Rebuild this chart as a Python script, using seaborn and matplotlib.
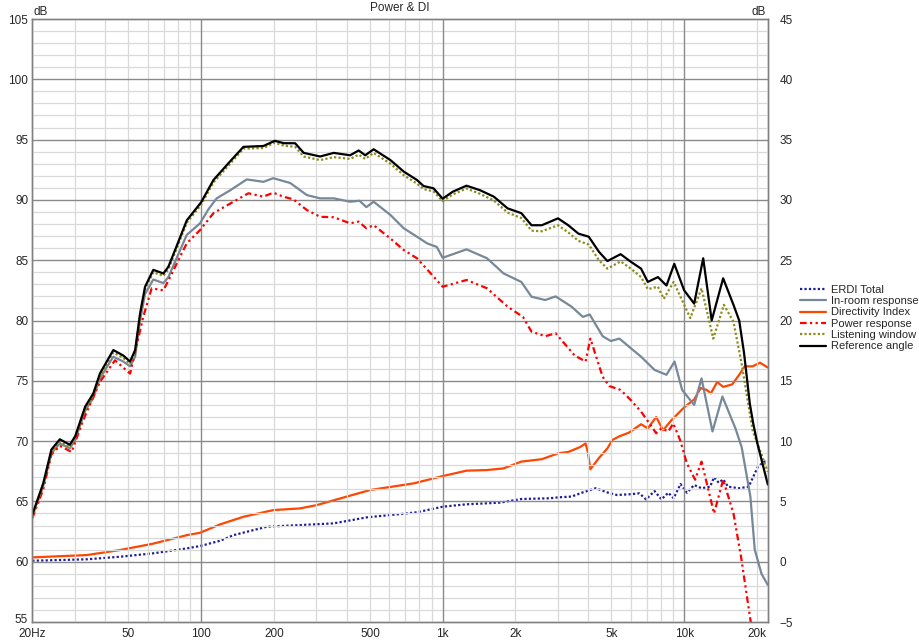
import numpy as np
import pandas as pd
import seaborn as sns
import matplotlib
matplotlib.use("Agg")
import matplotlib.pyplot as plt
import matplotlib.transforms as mtransforms

# ---- data (Hz, dB) ----
ref_freq = [20, 22.2, 24.0, 26.0, 28.6, 30.1, 33.1, 35.8, 38.1, 43.3, 47.6, 50.8, 53.3, 55.9, 58.6,
            63.4, 69.8, 73.2, 79.3, 87.2, 100, 112.5, 131.9, 149.7, 181, 202, 220, 245, 266, 311,
            354, 414, 449, 478, 518, 608, 690, 783, 834, 917, 1000, 1101, 1256, 1430, 1629, 1857,
            2117, 2334, 2574, 3003, 3312, 3651, 4026, 4437, 4811, 5456, 6015, 6632, 7070, 7789,
            8450, 9100, 10000, 11000, 11990, 13000, 14500, 16000, 16900, 17700, 18700, 19300,
            20100, 22200]
ref_db = [63.9, 66.5, 69.3, 70.15, 69.7, 70.4, 72.85, 73.96, 75.6, 77.55, 77.1, 76.6, 77.55, 80.6, 82.8,
          84.2, 83.9, 84.46, 86.2, 88.3, 89.8, 91.65, 93.2, 94.4, 94.47, 94.9, 94.7, 94.7, 93.9, 93.6,
          93.9, 93.7, 94.1, 93.7, 94.2, 93.3, 92.35, 91.65, 91.15, 90.96, 90.1, 90.68, 91.18, 90.8, 90.27, 89.3,
          88.9, 87.9, 87.9, 88.47, 87.9, 87.2, 86.95, 85.7, 84.93, 85.5, 84.87, 84.3, 83.2, 83.6,
          82.9, 84.7, 82.5, 81.4, 85.16, 80.0, 83.5, 81.3, 80.0, 77.3, 73.1, 71.5,
          69.8, 66.4]

lw_freq = [20, 22.2, 24.0, 26.0, 28.6, 30.1, 33.1, 35.8, 38.1, 43.3, 47.6, 50.8, 53.3, 55.9, 58.6,
           63.4, 69.8, 73.2, 79.3, 87.2, 100, 112.5, 131.9, 149.7, 181, 202, 220, 245, 266, 311,
           354, 414, 449, 478, 518, 608, 690, 783, 834, 917, 1000, 1101, 1256, 1430, 1629, 1857,
           2117, 2334, 2574, 3003, 3312, 3651, 4026, 4437, 4811, 5456, 6015, 6632, 7070, 7789,
           8230, 9044, 10600, 11800, 13200, 14600, 16000, 17300, 19200, 22200]
lw_db = [63.7, 66.3, 69.1, 69.95, 69.5, 70.2, 72.65, 73.8, 75.4, 77.35, 76.9, 76.4, 77.35, 80.4, 82.6,
         84.0, 83.7, 84.25, 86.0, 88.1, 89.6, 91.45, 93.0, 94.25, 94.3, 94.75, 94.5, 94.4, 93.6, 93.3,
         93.55, 93.4, 93.75, 93.4, 93.9, 93.0, 92.05, 91.35, 90.9, 90.7, 89.9, 90.45, 90.95, 90.5, 89.95, 88.95,
         88.5, 87.45, 87.4, 87.9, 87.3, 86.6, 86.3, 85.0, 84.3, 84.9, 84.3, 83.6, 82.6, 82.8,
         81.8, 83.2, 80.2, 82.67, 78.5, 81.3, 79.9, 76.4, 70.9, 67.45]

room_freq = [20, 22.2, 24.0, 26.0, 28.6, 30.1, 33.1, 35.8, 38.1, 43.3, 47.6, 50.8, 53.3, 55.9, 58.6,
             63.4, 69.8, 73.2, 79.3, 87.2, 99, 107, 116, 132, 154.6, 181, 199, 234, 274, 311,
             354, 414, 453, 483, 518, 608, 690, 783, 862, 946, 1000, 1256, 1527, 1788, 2117, 2334,
             2660, 2937, 3416, 3809, 4063, 4596, 4969, 5395, 6015, 6632, 7542, 8450, 9122, 9810,
             11000, 11800, 13100, 14400, 16300, 17300, 18800, 19600, 20900, 22200]
room_db = [63.8, 66.3, 69.0, 69.8, 69.4, 70.1, 72.5, 73.6, 75.2, 77.0, 76.6, 76.2, 77.0, 80.0, 82.2,
           83.4, 83.1, 83.6, 85.2, 87.1, 88.06, 89.2, 90.13, 90.8, 91.7, 91.5, 91.8, 91.4, 90.4, 90.13,
           90.13, 89.85, 89.93, 89.4, 89.85, 88.75, 87.65, 86.95, 86.4, 86.1, 85.2, 85.9, 85.16, 83.9, 83.2, 81.97,
           81.7, 82.0, 81.15, 80.3, 80.5, 78.7, 78.3, 78.5, 77.7, 77.0, 75.9, 75.5, 76.6, 74.24,
           73.0, 75.2, 70.8, 73.7, 71.06, 69.5, 65.4, 61.0, 59.0, 58.07]

pwr_freq = [20, 22.2, 24.0, 26.0, 29.1, 32.5, 38.1, 44.0, 50.8, 57.6, 62.4, 69.8, 74.4, 80.5, 87.2,
            99, 112.5, 132, 157, 181, 199, 219, 241, 274, 311, 354, 414, 449, 483, 518, 608, 690,
            783, 884, 1000, 1256, 1527, 1857, 2150, 2334, 2660, 2937, 3520, 3906, 4090, 4596, 4889,
            5456, 6015, 6632, 7183, 7660, 8049, 8600, 9015, 9615, 10260, 11100, 11800, 13300, 14500,
            16000, 17200, 18800, 19400]
pwr_db = [63.6, 66.0, 68.9, 69.6, 69.1, 71.75, 74.9, 76.7, 75.6, 80.3, 82.67, 82.5, 83.6, 85.0, 86.4,
          87.5, 88.9, 89.7, 90.55, 90.27, 90.6, 90.27, 90.05, 89.16, 88.6, 88.56, 88.06, 88.2, 87.65, 87.9, 86.8, 85.85,
          85.16, 84.0, 82.8, 83.36, 82.67, 81.15, 80.3, 79.07, 78.7, 78.94, 77.1, 76.6, 78.5, 75.34, 74.57,
          74.24, 73.4, 72.44, 71.47, 70.65, 71.06, 70.8, 71.47, 70.1, 68.16, 66.8, 68.3, 64.0, 66.8,
          64.0, 60.4, 55.2, 53.5]

# right axis (dB)
di_freq = [20, 33.6, 46.2, 63.4, 87.2, 99, 120, 150, 199, 257, 302, 401, 502, 608, 760, 1000, 1256,
           1527, 1788, 2117, 2574, 3021, 3312, 3700, 3906, 3990, 4090, 4437, 4811, 5047, 5395, 5902,
           6632, 7070, 7660, 8180, 8870, 10000, 11000, 11700, 12400, 12900, 13700, 14500, 15800,
           16900, 17800, 19200, 20600, 22200]
di_db = [0.36, 0.55, 0.97, 1.5, 2.2, 2.4, 3.1, 3.73, 4.28, 4.42, 4.7, 5.4, 5.95, 6.2, 6.5, 7.1, 7.55,
         7.6, 7.74, 8.3, 8.5, 9.0, 9.1, 9.5, 9.8, 9.1, 7.66, 8.6, 9.4, 10.1, 10.4, 10.7,
         11.4, 11.06, 12.0, 10.9, 11.75, 12.8, 13.45, 14.4, 14.24, 13.96, 14.9, 14.5, 14.7,
         15.5, 16.2, 16.2, 16.5, 16.1]

erdi_freq = [20, 33.6, 46, 63, 87, 99, 120, 136, 187, 257, 354, 486, 667, 783, 1000, 1256, 1730, 2117,
             2780, 3021, 3416, 3809, 4300, 4880, 5276, 6015, 6524, 6950, 7542, 8049, 8600, 9044, 9660,
             10260, 11000, 11800, 12800, 13300, 13900, 14500, 15200, 16900, 18500, 20200, 21500, 22200]
erdi_db = [0.08, 0.2, 0.41, 0.69, 1.1, 1.3, 1.74, 2.2, 2.9, 3.04, 3.18, 3.68, 3.95, 4.1, 4.56, 4.76, 4.9, 5.2,
           5.26, 5.34, 5.4, 5.75, 6.09, 5.7, 5.53, 5.6, 5.67, 5.17, 5.86, 5.17, 5.72, 5.26, 6.44,
           5.72, 6.36, 6.09, 6.22, 7.0, 6.55, 6.83, 6.22, 6.09, 6.22, 7.88, 8.3, 8.3]

xtick_vals = [20, 50, 100, 200, 500, 1000, 2000, 5000, 10000, 20000]
xtick_text = ["20Hz", "50", "100", "200", "500", "1k", "2k", "5k", "10k", "20k"]

sns.set_style("white")
plt.rcParams['font.family'] = ['Liberation Sans', 'DejaVu Sans']

fig = plt.figure(figsize=(9.2, 6.4), dpi=100)
ax = fig.add_axes([0.0351, 0.0281, 0.80, 0.9422])
ax2 = ax.twinx()

ax.set_xscale("log")
ax.set_xlim(20, 22300)
ax.set_ylim(55, 105)
ax2.set_ylim(-5, 45)

# grid
minor_c, major_c = "#d9d9d9", "#8a8a8a"
for dec in [10, 100, 1000, 10000]:
    for m in range(2, 10):
        f = dec * m
        if 20 <= f <= 22300:
            ax.axvline(f, color=minor_c, lw=0.9, zorder=0)
for f in [100, 1000, 10000]:
    ax.axvline(f, color=major_c, lw=1.0, zorder=0.5)
for v in range(56, 105):
    ax.axhline(v, color=major_c if v % 5 == 0 else minor_c, lw=1.0 if v % 5 == 0 else 0.9,
               zorder=0.5 if v % 5 == 0 else 0)

lines_left = [
    (room_freq, room_db, "#778899", "-", "In-room response"),
    (pwr_freq, pwr_db, "#ff0000", (0, (3, 1.5, 1, 1.5, 1, 1.5)), "Power response"),
    (lw_freq, lw_db, "#8c8c1a", (0, (1, 1)), "Listening window"),
    (ref_freq, ref_db, "#000000", "-", "Reference angle"),
]
lines_right = [
    (di_freq, di_db, "#ff4500", "-", "Directivity Index"),
    (erdi_freq, erdi_db, "#1c1c99", (0, (1, 1)), "ERDI Total"),
]

handles = {}
for fr, db, col, ls, name in lines_right:
    sns.lineplot(x=fr, y=db, ax=ax2, color=col, lw=1.6, errorbar=None, legend=False)
    ln = ax2.lines[-1]
    ln.set_linestyle(ls)
    ln.set_dash_capstyle("butt")
    handles[name] = ln
for fr, db, col, ls, name in lines_left:
    sns.lineplot(x=fr, y=db, ax=ax, color=col, lw=1.6, errorbar=None, legend=False)
    ln = ax.lines[-1]
    ln.set_linestyle(ls)
    ln.set_dash_capstyle("butt")
    handles[name] = ln

# put left axis lines on top of the right axis ones
ax.set_zorder(ax2.get_zorder() + 1)
ax.patch.set_visible(False)

ax.set_xticks(xtick_vals)
ax.set_xticklabels(xtick_text)
ax.xaxis.set_minor_locator(matplotlib.ticker.NullLocator())
ax.set_yticks(range(55, 106, 5))
ax2.set_yticks(range(-5, 46, 5))
ax.tick_params(axis="x", length=0, pad=4, labelsize=8.5)
ax.tick_params(axis="y", length=0, pad=3, labelsize=8.5)
ax2.tick_params(axis="y", length=0, pad=8, labelsize=8.5)
for t in ax.get_yticklabels() + ax2.get_yticklabels():
    t.set_verticalalignment("center_baseline")
# lift the bottom "55" a little so it clears "20Hz"
lift = mtransforms.ScaledTranslation(0, 2.5 / 72, fig.dpi_scale_trans)
for t in ax.yaxis.get_major_ticks()[:1]:
    t.label1.set_transform(t.label1.get_transform() + lift)
ax.set_xlabel("")
ax.set_ylabel("")
ax2.set_ylabel("")
for a in (ax, ax2):
    for s in a.spines.values():
        s.set_color("#808080")
        s.set_linewidth(1.0)

fig.text(0.0362, 0.972, "dB", fontsize=8.5, ha="left", va="bottom")
fig.text(0.833, 0.972, "dB", fontsize=8.5, ha="right", va="bottom")
fig.text(0.435, 0.978, "Power & DI", fontsize=8.5, ha="center", va="bottom")

order = ["ERDI Total", "In-room response", "Directivity Index", "Power response",
         "Listening window", "Reference angle"]
fig.legend([handles[n] for n in order], order, loc="upper left", bbox_to_anchor=(0.865, 0.562),
           frameon=False, fontsize=8, handlelength=2.3, handletextpad=0.5, labelspacing=0.12,
           borderaxespad=0)

fig.savefig("out.png", dpi=100, facecolor="white")
